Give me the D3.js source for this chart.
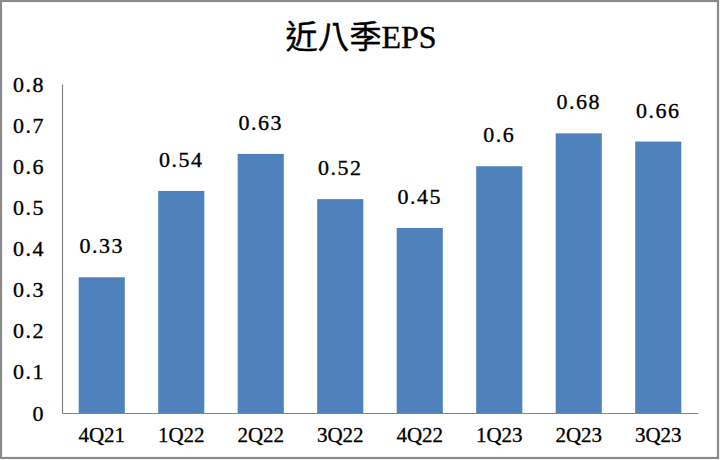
<!DOCTYPE html>
<html>
<head>
<meta charset="utf-8">
<script src="https://cdn.jsdelivr.net/npm/d3@7"></script>
<style>
  body { margin: 0; background: #fff; }
</style>
</head>
<body>
<svg width="720" height="460"></svg>
<script>
const quarters = ["4Q21", "1Q22", "2Q22", "3Q22", "4Q22", "1Q23", "2Q23", "3Q23"]
const eps = [0.33, 0.54, 0.63, 0.52, 0.45, 0.6, 0.68, 0.66]
const yTicks = [0, 0.1, 0.2, 0.3, 0.4, 0.5, 0.6, 0.7, 0.8]

const svg = d3.select("svg")
const width = +svg.attr("width")
const height = +svg.attr("height")
const numFont = "'Liberation Serif', 'DejaVu Serif', serif"

// outer frame
svg.append("rect")
  .attr("x", 1).attr("y", 1)
  .attr("width", width - 3).attr("height", height - 3)
  .attr("fill", "#fff")
  .attr("stroke", "#8a8a8a")
  .attr("stroke-width", 2.2)

svg.append("text")
  .attr("x", 361).attr("y", 48)
  .attr("text-anchor", "middle")
  .style("font-family", "'Liberation Serif', 'Noto Sans CJK TC', serif")
  .style("font-size", "32px")
  .attr("fill", "#000")
  .attr("stroke", "#000").attr("stroke-width", 0.4)
  .text("近八季EPS")

const x = d3.scaleBand()
  .domain(quarters)
  .range([62, 698])
  .paddingInner(0.42)
  .paddingOuter(0.21)

const y = d3.scaleLinear()
  .domain([0, 0.8])
  .range([413, 84])

// y axis (labels only, plain line)
const yAxis = svg.append("g")
  .attr("transform", "translate(62,0)")
  .call(d3.axisLeft(y).tickValues(yTicks).tickSize(0).tickPadding(17)
    .tickFormat(d => d === 0 ? "0" : d3.format(".1f")(d)))
yAxis.select(".domain").attr("stroke", "#868686").attr("stroke-width", 1.2)
yAxis.selectAll("text")
  .style("font-family", numFont)
  .style("font-size", "22px")
  .style("letter-spacing", "1.5px")
  .attr("fill", "#000")
  .attr("stroke", "#000").attr("stroke-width", 0.35)

svg.selectAll("rect.bar")
  .data(eps)
  .join("rect")
  .attr("class", "bar")
  .attr("x", (d, i) => x(quarters[i]))
  .attr("width", x.bandwidth())
  .attr("y", d => y(d))
  .attr("height", d => y(0) - y(d))
  .attr("fill", "#4f81bd")

// x axis
const xAxis = svg.append("g")
  .attr("transform", `translate(0,${y(0)})`)
  .call(d3.axisBottom(x).tickSize(0).tickPadding(14))
xAxis.select(".domain").attr("stroke", "#868686").attr("stroke-width", 1.2)
xAxis.selectAll("text")
  .style("font-family", numFont)
  .style("font-size", "21px")
  .attr("fill", "#000")
  .attr("stroke", "#000").attr("stroke-width", 0.3)

svg.selectAll("text.val")
  .data(eps)
  .join("text")
  .attr("class", "val")
  .attr("x", (d, i) => x(quarters[i]) + x.bandwidth() / 2)
  .attr("y", d => y(d) - 24)
  .attr("text-anchor", "middle")
  .style("font-family", numFont)
  .style("font-size", "22px")
  .style("letter-spacing", "1.5px")
  .attr("fill", "#000")
  .attr("stroke", "#000").attr("stroke-width", 0.35)
  .text(d => d)
</script>
</body>
</html>
